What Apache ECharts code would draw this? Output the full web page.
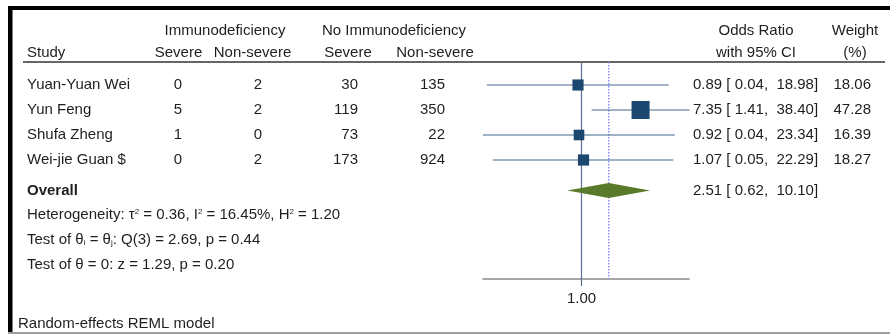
<!DOCTYPE html>
<html><head><meta charset="utf-8">
<script src="https://cdn.jsdelivr.net/npm/echarts@6/dist/echarts.min.js"></script>
<style>html,body{margin:0;padding:0;background:#fff}#c{width:890px;height:334px}</style>
</head><body><div id="c"></div>
<script>
// ---- data ----
const studies = ['Yuan-Yuan Wei', 'Yun Feng', 'Shufa Zheng', 'Wei-jie Guan $'];
const immSevere = [0, 5, 1, 0];
const immNonSevere = [2, 2, 0, 2];
const noImmSevere = [30, 119, 73, 173];
const noImmNonSevere = [135, 350, 22, 924];
const oddsRatio = [0.89, 7.35, 0.92, 1.07];
const ciLow = [0.041, 1.41, 0.036, 0.05];
const ciHigh = [18.98, 38.40, 23.34, 22.29];
const weights = [18.06, 47.28, 16.39, 18.27];
const overallEst = [2.51];
const overallLow = [0.62];
const overallHigh = [10.10];
const tau2 = '0.36', i2 = '16.45%', h2 = '1.20';
const qDf = 3, qStat = '2.69', qP = '0.44';
const zStat = '1.29', zP = '0.20';
const xTickValues = [1];
const xTickLabels = ['1.00'];

// ---- layout ----
const FONT = '15px "Liberation Sans", Arial, sans-serif';
const BFONT = 'bold 15px "Liberation Sans", Arial, sans-serif';
const TXT = '#1e1e1e';
const COL = {study: 27, immS: 182, immN: 262, noS: 358, noN: 445, or: 693, wt: 871};
const Y_MIN = 0.08, Y_MAX = 8.76, OVERALL_ROW = 5.22;

const f2 = v => v.toFixed(2);
const pad = (s, n) => (' '.repeat(Math.max(0, n - s.length))) + s;
const orText = (e, l, h) => f2(e) + ' [ ' + f2(l) + ',  ' + pad(f2(h), 5) + ']';

function txt(x, y, text, align, font) {
  return {type: 'text', x: x, y: y,
    style: {text: text, font: font || FONT, fill: TXT, align: align || 'left', verticalAlign: 'middle',
      textAlign: align || 'left', textVerticalAlign: 'middle'}};
}

const studyData = studies.map((s, i) => [oddsRatio[i], ciLow[i], ciHigh[i], weights[i], i + 1]);

function renderStudy(params, api) {
  const y = api.value(4);
  const pLo = api.coord([api.value(1), y]);
  const pHi = api.coord([api.value(2), y]);
  const pE = api.coord([api.value(0), y]);
  const side = 2.62 * Math.sqrt(api.value(3));
  return {type: 'group', children: [
    {type: 'line', shape: {x1: pLo[0], y1: pLo[1], x2: pHi[0], y2: pHi[1]}, style: {stroke: '#46698f', lineWidth: 1.2}},
    {type: 'rect', shape: {x: pE[0] - side / 2, y: pE[1] - side / 2, width: side, height: side}, style: {fill: '#1a476f'}}
  ]};
}

function renderTable(params, api) {
  const i = params.dataIndex;
  const y = api.coord([1, api.value(4)])[1];
  return {type: 'group', children: [
    txt(COL.study, y, studies[i], 'left'),
    txt(COL.immS, y, String(immSevere[i]), 'right'),
    txt(COL.immN, y, String(immNonSevere[i]), 'right'),
    txt(COL.noS, y, String(noImmSevere[i]), 'right'),
    txt(COL.noN, y, String(noImmNonSevere[i]), 'right'),
    txt(COL.or, y, orText(oddsRatio[i], ciLow[i], ciHigh[i]), 'left'),
    txt(COL.wt, y, f2(weights[i]), 'right')
  ]};
}

function renderOverall(params, api) {
  const y = api.value(3);
  const pL = api.coord([api.value(1), y]);
  const pH = api.coord([api.value(2), y]);
  const pE = api.coord([api.value(0), y]);
  const h = 7.5;
  return {type: 'group', children: [
    {type: 'polygon', shape: {points: [[pL[0], pL[1]], [pE[0], pE[1] - h], [pH[0], pH[1]], [pE[0], pE[1] + h]]},
      style: {fill: '#587a2a'}},
    txt(27, pE[1], 'Overall', 'left', BFONT),
    txt(COL.or, pE[1], orText(api.value(0), api.value(1), api.value(2)), 'left')
  ]};
}

function renderRef(params, api) {
  const x = api.value(0);
  const p0 = api.coord([x, Y_MIN]);
  const p1 = api.coord([x, Y_MAX]);
  const dotted = params.dataIndex === 1;
  return {type: 'line', shape: {x1: p0[0], y1: p0[1], x2: p1[0], y2: p1[1]},
    style: dotted ? {stroke: '#8c8cff', lineWidth: 1.5, lineDash: [1.5, 1.5]} : {stroke: '#5b7090', lineWidth: 1.2}};
}

const chart = echarts.init(document.getElementById('c'), null, {renderer: 'canvas'});
chart.setOption({
  animation: false,
  backgroundColor: '#fff',
  grid: {left: 483, right: 201, top: 62, bottom: 55, containLabel: false},
  xAxis: {
    type: 'log', min: 0.036, max: 37.7, logBase: 10,
    splitLine: {show: false},
    axisLine: {show: true, lineStyle: {color: '#8a8a8a', width: 1.6}},
    axisTick: {show: true, customValues: xTickValues, length: 7, lineStyle: {color: '#5b7090', width: 1.2}},
    axisLabel: {show: true, customValues: xTickValues, margin: 12, formatter: v => xTickLabels[xTickValues.indexOf(v)] || '',
      fontFamily: '"Liberation Sans", Arial, sans-serif', fontSize: 15, color: TXT},
    minorTick: {show: false}
  },
  yAxis: {type: 'value', inverse: true, min: Y_MIN, max: Y_MAX, show: false},
  series: [
    {type: 'custom', renderItem: renderRef, data: [[1], [overallEst[0]]], z: 1, silent: true, clip: false},
    {type: 'custom', renderItem: renderStudy, data: studyData, z: 3, clip: false},
    {type: 'custom', renderItem: renderTable, data: studyData, z: 3, clip: false},
    {type: 'custom', renderItem: renderOverall, data: [[overallEst[0], overallLow[0], overallHigh[0], OVERALL_ROW]], z: 3, clip: false}
  ],
  graphic: [
    // frame
    {type: 'rect', shape: {x: 8, y: 6, width: 882, height: 4}, style: {fill: '#000'}},
    {type: 'rect', shape: {x: 8, y: 6, width: 4.5, height: 328}, style: {fill: '#000'}},
    {type: 'rect', shape: {x: 8, y: 332, width: 882, height: 2}, style: {fill: '#a0a0a0'}},
    // header rule
    {type: 'rect', shape: {x: 23, y: 61.3, width: 862, height: 1.5}, style: {fill: '#333'}},
    // headers
    txt(225, 30.5, 'Immunodeficiency', 'center'),
    txt(394, 30.5, 'No Immunodeficiency', 'center'),
    txt(756, 30.5, 'Odds Ratio', 'center'),
    txt(855, 30.5, 'Weight', 'center'),
    txt(27, 52.5, 'Study', 'left'),
    txt(178.5, 52.5, 'Severe', 'center'),
    txt(252.5, 52.5, 'Non-severe', 'center'),
    txt(348, 52.5, 'Severe', 'center'),
    txt(435, 52.5, 'Non-severe', 'center'),
    txt(756, 52.5, 'with 95% CI', 'center'),
    txt(855, 52.5, '(%)', 'center'),
    // statistics
    {type: 'text', x: 27, y: 215, style: {
      text: 'Heterogeneity: τ{sup|2} = ' + tau2 + ', I{sup|2} = ' + i2 + ', H{sup|2} = ' + h2,
      font: FONT, fill: TXT, align: 'left', verticalAlign: 'middle', textAlign: 'left', textVerticalAlign: 'middle',
      rich: {sup: {fontSize: 8, fontFamily: '"Liberation Sans", Arial', verticalAlign: 'top', fill: TXT, color: TXT}}}},
    {type: 'text', x: 27, y: 239.5, style: {
      text: 'Test of θ{sub|i} = θ{sub|j}: Q(' + qDf + ') = ' + qStat + ', p = ' + qP,
      font: FONT, fill: TXT, align: 'left', verticalAlign: 'middle', textAlign: 'left', textVerticalAlign: 'middle',
      rich: {sub: {fontSize: 8, fontFamily: '"Liberation Sans", Arial', verticalAlign: 'bottom', fill: TXT, color: TXT}}}},
    txt(27, 265, 'Test of θ = 0: z = ' + zStat + ', p = ' + zP, 'left'),
    txt(18, 324, 'Random-effects REML model', 'left')
  ]
});
</script></body></html>
